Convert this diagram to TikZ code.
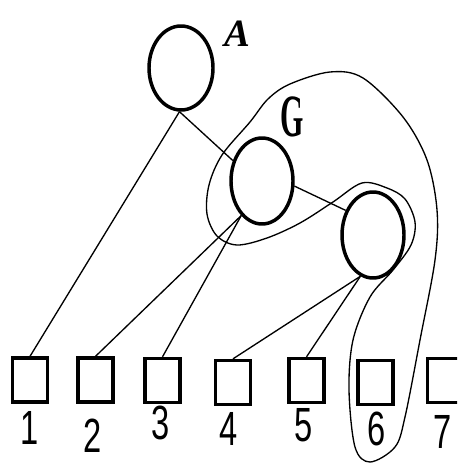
\documentclass[tikz,border=0pt]{standalone}
\usepackage{fontspec}
\usetikzlibrary{shapes.geometric}
\newfontfamily\digitfont[FakeStretch=0.68]{Liberation Sans}
\newfontfamily\tallfont[FakeStretch=0.5]{Liberation Serif}
\newfontfamily\slantfont{Liberation Serif}
\begin{document}
\begin{tikzpicture}[x=0.75pt,y=-0.75pt,
  vertex/.style={ellipse,draw,line width=2.6pt,inner sep=0pt,
    minimum width=62*0.75pt,minimum height=86*0.75pt},
  leaf/.style={rectangle,draw,line width=2.5pt,inner sep=0pt,
    minimum width=35*0.75pt,minimum height=44*0.75pt},
  edge/.style={line width=1pt},
  digit/.style={font=\digitfont\fontsize{36}{36}\selectfont,inner sep=0pt},
  vlabel/.style={inner sep=0pt}]
\useasboundingbox (0,0) rectangle (457,463);
\clip (0,0) rectangle (457,463);

% internal vertices
\node[vertex,minimum width=64*0.75pt,minimum height=84*0.75pt] (A) at (181,68) {};
\node[vertex] (G) at (262,181) {};
\node[vertex] (C) at (373,235) {};

% leaves
\node[leaf] (s1) at (30,380) {};
\node[leaf] (s2) at (95.5,380) {};
\node[leaf] (s3) at (162.5,380.5) {};
\node[leaf] (s4) at (233,382.5) {};
\node[leaf] (s5) at (306.5,380.5) {};
\node[leaf] (s6) at (375.5,382.5) {};
\node[leaf] (s7) at (445,380.5) {};

% leaf numbers
\node[digit] (n1) at (30,428) {1};
\node[digit] (n2) at (93,436) {2};
\node[digit] (n3) at (161,423) {3};
\node[digit] (n4) at (229,429) {4};
\node[digit] (n5) at (304,425) {5};
\node[digit] (n6) at (377,429) {6};
\node[digit] (n7) at (443,432) {7};

% vertex names
\node[vlabel,font=\slantfont\bfseries\itshape\fontsize{29}{29}\selectfont] (la) at (237.5,34) {A};
\node[vlabel,font=\tallfont\bfseries\fontsize{45}{45}\selectfont] (lg) at (292.5,116.5) {G};

% tree edges
\draw[edge] (A.-92) -- (s1.north);
\draw[edge] (A.-92) -- (G.145);
\draw[edge] (G.-121) -- (s2.north);
\draw[edge] (G.-121) -- (s3.north);
\draw[edge] (G.-9) -- (C.138);
\draw[edge] (C.-107) -- (s4.north);
\draw[edge] (C.-107) -- (s5.north);

% closed curve around G, C and leaf 6
\draw[line width=1pt] plot[smooth cycle,tension=0.55] coordinates {
  (222,155) (250,122) (268,99) (290,84) (330,72) (363,78) (403,117) (427,160)
  (437,210) (435,260) (420,340) (405,417) (395,447) (370,462)
  (355,447) (349,390) (353,340) (370,297) (393,270) (411,245)
  (415,222) (405,199) (387,188) (362,183) (333,202) (300,223)
  (267,238) (237,245) (217,236) (207,214) (209,185)};
\end{tikzpicture}
\end{document}
